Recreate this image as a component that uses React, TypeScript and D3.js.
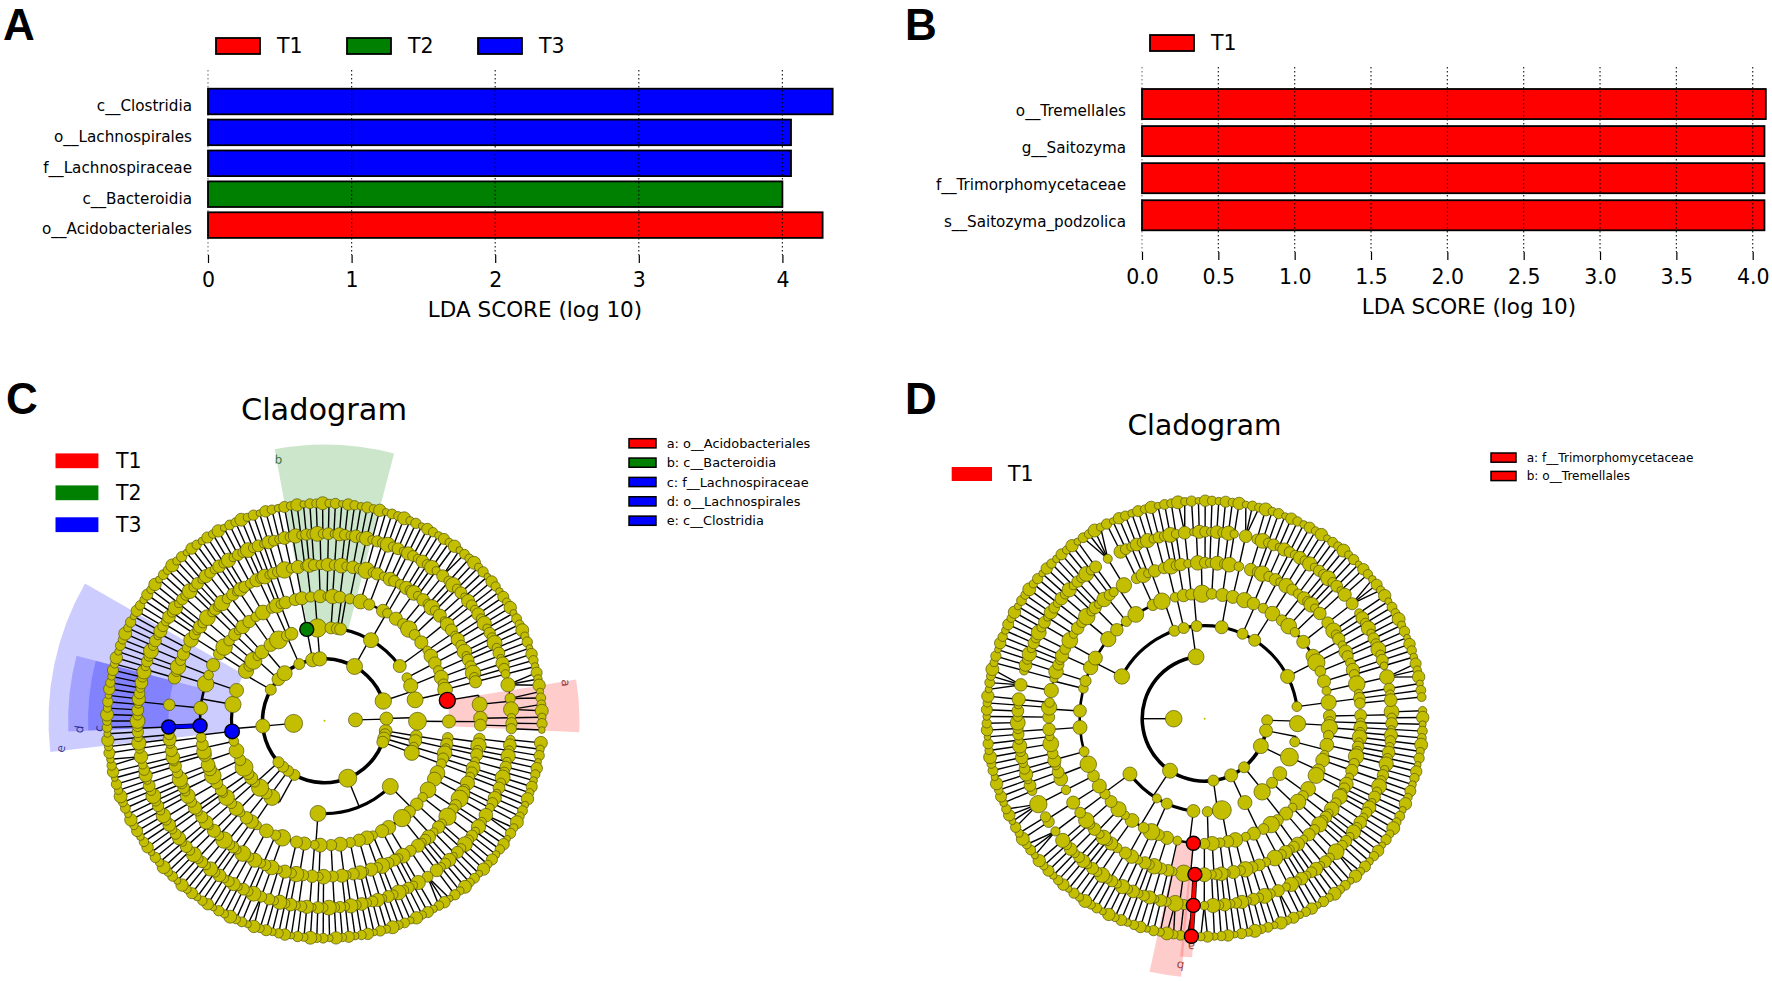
import React, { useEffect, useRef } from 'react';
import * as d3 from 'd3';

// ---- LDA bar panels ----
const categoriesA = ['c__Clostridia', 'o__Lachnospirales', 'f__Lachnospiraceae', 'c__Bacteroidia', 'o__Acidobacteriales'];
const scoresA = [4.35, 4.06, 4.06, 4.0, 4.28];
const groupsA = ['T3', 'T3', 'T3', 'T2', 'T1'];
const ticksA = [0, 1, 2, 3, 4];

const categoriesB = ['o__Tremellales', 'g__Saitozyma', 'f__Trimorphomycetaceae', 's__Saitozyma_podzolica'];
const scoresB = [4.086, 4.077, 4.077, 4.077];
const groupsB = ['T1', 'T1', 'T1', 'T1'];
const ticksB = [0, 0.5, 1, 1.5, 2, 2.5, 3, 3.5, 4];

const groupColor: Record<string, string> = { T1: '#ff0000', T2: '#008000', T3: '#0000ff' };

// ---- cladogram legends ----
const cladeKeyC = [
  ['a: o__Acidobacteriales', 'T1'],
  ['b: c__Bacteroidia', 'T2'],
  ['c: f__Lachnospiraceae', 'T3'],
  ['d: o__Lachnospirales', 'T3'],
  ['e: c__Clostridia', 'T3'],
];
const cladeKeyD = [
  ['a: f__Trimorphomycetaceae', 'T1'],
  ['b: o__Tremellales', 'T1'],
];

// shaded sectors: label, group, first angle, last angle, inner ring, outer radius (degrees clockwise from north)
const sectorsC: [string, string, number, number, number, number][] = [
  ['e', 'T3', 263.5, 299.8, 3, 276],
  ['d', 'T3', 267.6, 284.7, 4, 256.4],
  ['c', 'T3', 267.6, 284.7, 5, 236.5],
  ['b', 'T2', 349.6, 374.6, 3, 276],
  ['a', 'T1', 80.7, 92.6, 4, 255],
];
const sectorsD: [string, string, number, number, number, number][] = [
  ['b', 'T1', 185.2, 192.3, 4, 259],
  ['a', 'T1', 183, 185.9, 5, 239],
];

// ---- taxonomy trees ----
// kingdom > phylum > class > order > family. A number is a family with that many
// single-species genera, an array is a family listing the species count of each genus.
const phylaC1 = [
  [[[2, 1], [1]]],
  [[[1]]],
  [[[2], [1]]],
  [[[1, 1]]],
];
const phylumC2 = [
  [[2, 1], [1, [2]], [1, 1], [3], [1, 1], [2, 1], [1, 1, 1], [[3], 1], [1, 1], [2, 1], [1]],
  [[2, 1], [1, 2], [1, 1], [3], [1, 1], [2], [2, 1], [1, 2, 1], [[2]], [1, 1], [2, 1]],
];
const phylaC3 = [
  [[[2, 1], [1]], [[1, 2]], [[1], [2]]],
  [[[1, 1]], [[2]], [[1], [1]]],
  [[[2, 1]], [[1, 1], [1]]],
  [[[1, 2], [1]], [[1, 1], [[2]]], [[1, 1]]],
];
const phylumC4 = [
  [[1, 1], [10], [2, 1], [1, 2]],
  [[1, 2]],
];
const phylaC5 = [
  [[[2, 1]], [[1, 1]]],
  [[[1, 2]], [[1]]],
  [[[1, 1], [1]]],
];
const phylumC6 = [[[2, 1], [1, 1]], [[1, 2]], [[1, 1], [1]], [[1]]];
const phylumC7 = [[[1, 1], [2, 1]]];
const phylumC8 = [[[2], [1, 1], [1, 2], [1]]];
const phylumC9 = [
  [[2]],
  [[1, 1]],
  [[2, 1]],
  [[2, 1], [1, 2], [1, 1], [2, 1], [1, 1, 1], [[2]], [1, 1]],
  [[1, 2], [1, 1], [2, 1], [1]],
];
const phylumC10 = [
  [[2, 1]],
  [[1, 1], [2]],
  [[1, 1], [1], [[3, 2, 2]]],
];
const kingdomC2 = [[[[1, 2]]]];
const treeC = [
  [...phylaC1, phylumC2, ...phylaC3, phylumC4, ...phylaC5, phylumC6, phylumC7, phylumC8, phylumC9, phylumC10],
  kingdomC2,
];

const phylumD1 = [[[2], [1], [1, 1], [1, 1]]];
const phylumD2 = [[[1, 1, 1], [2]]];
const phylumD3 = [[[1], [2, 1, 1], [1, 1]]];
const phylumD4 = [[[2, 1], [1, 1]], [[1, 1], [[2]]], [[1, 2], [1, 1]]];
const phylumD5 = [[[1, 1], [1, 2], [[2]], [1, 2]]];
const phylumD6 = [[[1, 1], [2], [1, 1]], [[1, 1], [[2]]]];
const phylumD7 = [
  [[[2], [1, 2]], [1, 1], [2, 1]],
  [[1, 1], [2], [1, 2]],
  [[2, 1], [1, 1]],
  [[1, 2], [1, 1], [[3]], [2]],
];
const phylumD8 = [
  [[[4]], [1, 2], [1, 1, 2], [2, 1, 2], [3, 1, 1], [[4]], [1, 2, 1], [1, 1, 2], [2, 1, 2], [1, 2], [1, 1, 1], [2, 1], [1, [4]], [2, 1]],
  [[1, 2]],
  [[2, 1]],
  [[1, 1], [[2]], [2, 1]],
  [[1, 2], [1, 1], [[3]]],
  [[2, 1], [1, 2]],
  [[1, 1], [2, 1]],
  [[2, 1], [1, 1], [1, 2], [[3]], [1, 1, 1], [2, 1], [1, 2], [1, 1], [[3]]],
  [[1, 1, 1]],
];
const treeD = [[phylumD1, phylumD2, phylumD3, phylumD4, phylumD5, phylumD6, phylumD7, phylumD8]];

// nodes: ring, angle, radius, group colour, heavy branch to parent
type Pin = [number, number, number, string?, boolean?];
const pinsC: Pin[] = [
  [1, 265, 9], [1, 88.5, 7],
  [2, 158, 9], [2, 209, 5.5], [2, 216, 5.5], [2, 222, 5.5], [2, 228, 5.5],
  [2, 265, 7], [2, 300, 5.5], [2, 320, 7.5], [2, 336, 5.5], [2, 349, 7], [2, 29, 8], [2, 71.5, 8.2], [2, 88, 6.5],
  [3, 349, 7, 'T2'], [3, 263.4, 7.3, 'T3'], [3, 289, 7], [3, 30, 7.5], [3, 54, 6.5], [3, 77, 8], [3, 135, 8], [3, 184, 8],
  [3, 4, 6], [3, 8, 6], [3, 10, 6],
  [4, 80.6, 8, 'T1'], [4, 267.7, 7, 'T3'], [4, 28, 6.5], [4, 358, 6.5], [4, 349.5, 6.5], [4, 149, 7], [4, 137, 6],
  [4, 118, 7], [4, 182, 7], [4, 193, 6], [4, 254, 6.5], [4, 247, 6.5],
  [5, 267.7, 7, 'T3', true], [5, 120, 8.5], [5, 84, 7.5],
];
const pinsD: Pin[] = [
  [1, 270, 8.3],
  [2, 91.5, 5.5], [2, 101, 6.5], [2, 116, 7.5], [2, 141, 5.5], [2, 155, 6.5], [2, 172, 5.5], [2, 213.7, 7.5], [2, 352, 8],
  [3, 297, 7.7], [3, 63, 7], [3, 233.5, 7], [3, 187, 6.5], [3, 204, 5.5], [3, 211, 4.5], [3, 341, 5.5], [3, 347, 5.5], [3, 355, 5.5],
  [3, 10.5, 6.5], [3, 24, 5.5], [3, 32.5, 6],
  [4, 185.2, 7, 'T1'], [4, 266, 7], [4, 284, 4.8], [4, 299, 7], [4, 13, 6.5], [4, 60, 7], [4, 117, 8],
  [5, 183.6, 7, 'T1'], [5, 120, 7.5],
  [6, 183.5, 7, 'T1', true],
  [7, 183.5, 7, 'T1', true],
];

const ringRadiiC = [0, 31, 62, 93, 124.5, 156, 187, 217.5];
const ringRadiiD = [0, 31, 62.5, 93, 125, 156, 187, 218];
const ringNodeSize = [0, 9, 5.5, 5.8, 5.6, 5.6, 5.4, 4.7];
const branchWidth = [0, 0, 3.6, 3.2, 2.6, 1.6, 1.2, 1];
// node-to-node size differences within a ring, estimated from the outer rings
const sizeSteps = [1, 0.82, 1.18, 0.9, 1.32, 0.76, 1.05, 0.95, 1.38, 0.86, 1.1, 0.72, 1.22];

const nodeFill = '#c3bf00';
const FONT = '"DejaVu Sans", sans-serif';

const panelLetters: [string, number, number][] = [['A', 3, 39.5], ['B', 905, 39.5], ['C', 6, 414], ['D', 905, 414]];

function expand(v: any, depth: number): any {
  if (depth === 7) return {};
  if (typeof v === 'number') {
    if (depth === 6) return { kids: d3.range(v).map(() => expand(0, 7)) };
    return { kids: d3.range(v).map(() => expand(1, 6)) };
  }
  return { kids: v.map((k: any) => expand(k, depth + 1)) };
}

const polar = (deg: number, r: number) => d3.pointRadial((deg * Math.PI) / 180, r);

function drawBars(svg: any, cfg: any) {
  const g = svg.append('g').attr('font-family', FONT);
  const x = d3.scaleLinear().domain([0, cfg.ticks[cfg.ticks.length - 1]]).range(cfg.xRange);
  const y = d3.scaleBand().domain(cfg.categories).range(cfg.yRange).paddingInner(cfg.padding).paddingOuter(0);

  g.selectAll('rect.bar')
    .data(cfg.categories)
    .join('rect')
    .attr('class', 'bar')
    .attr('x', x(0))
    .attr('y', (d: string) => y(d))
    .attr('width', (_: string, i: number) => x(cfg.values[i]) - x(0))
    .attr('height', y.bandwidth())
    .attr('fill', (_: string, i: number) => groupColor[cfg.groups[i]])
    .attr('stroke', '#000')
    .attr('stroke-width', 1.8);

  // dotted grid goes over the bars
  g.selectAll('line.grid')
    .data(cfg.ticks)
    .join('line')
    .attr('x1', (d: number) => x(d))
    .attr('x2', (d: number) => x(d))
    .attr('y1', cfg.gridTop)
    .attr('y2', cfg.axisY)
    .attr('stroke', '#000')
    .attr('stroke-opacity', (d: number) => (d === 0 ? 0.5 : 0.85))
    .attr('stroke-width', 1.2)
    .attr('stroke-dasharray', '1.5 2.5');

  const axis = g.append('g')
    .attr('transform', `translate(0,${cfg.axisY})`)
    .call(d3.axisBottom(x).tickValues(cfg.ticks).tickSize(8).tickPadding(9).tickFormat(cfg.format));
  axis.select('.domain').remove();
  axis.selectAll('text').attr('font-size', 20.5).attr('font-family', FONT).attr('fill', '#000');
  axis.selectAll('line').attr('stroke-width', 1.2);

  g.selectAll('text.cat')
    .data(cfg.categories)
    .join('text')
    .attr('class', 'cat')
    .attr('x', cfg.labelX)
    .attr('y', (d: string) => y(d)! + y.bandwidth() / 2 + cfg.labelDrop)
    .attr('dy', '0.32em')
    .attr('text-anchor', 'end')
    .attr('font-size', 15.2)
    .text((d: string) => d);

  g.append('text')
    .attr('x', cfg.titleX)
    .attr('y', cfg.titleY)
    .attr('dy', '0.32em')
    .attr('text-anchor', 'middle')
    .attr('font-size', 21.5)
    .text('LDA SCORE (log 10)');

  cfg.legend.forEach((name: string, i: number) => {
    g.append('rect')
      .attr('x', cfg.legendX[i])
      .attr('y', cfg.legendY)
      .attr('width', 44)
      .attr('height', 16)
      .attr('fill', groupColor[name])
      .attr('stroke', '#000')
      .attr('stroke-width', 1.8);
    g.append('text')
      .attr('x', cfg.legendX[i] + 61)
      .attr('y', cfg.legendY + 8)
      .attr('dy', '0.36em')
      .attr('font-size', 20.5)
      .text(name);
  });
}

function drawCladogram(svg: any, cfg: any) {
  const root = d3.hierarchy(expand(cfg.tree, 0), (d: any) => d.kids);
  const leafCount = root.leaves().length;
  d3.cluster().size([(360 * (leafCount - 1)) / leafCount, 1]).separation(() => 1)(root as any);
  const nodes: any[] = root.descendants();
  nodes.forEach(n => {
    n.a = n.x + cfg.start;
  });
  const r = d3.scaleLinear().domain(d3.range(8)).range(cfg.radii);

  // default sizes: bigger clades get bigger nodes
  const sz = d3.scaleSqrt().domain([1, 12]).range([1, 1.4]).clamp(true);
  nodes.forEach((n, i) => {
    const step = n.depth >= 3 ? sizeSteps[i % sizeSteps.length] : 1;
    n.size = ringNodeSize[n.depth] * sz(n.leaves().length) * step;
  });

  const used = new Set<any>();
  cfg.pins.forEach(([depth, angle, size, group, heavy]: Pin) => {
    let best: any = null;
    let bestDiff = Infinity;
    nodes.filter(n => n.depth === depth && !used.has(n)).forEach(n => {
      const diff = ((angle - n.a + 540) % 360) - 180;
      if (Math.abs(diff) < Math.abs(bestDiff)) {
        bestDiff = diff;
        best = n;
      }
    });
    if (!best) return;
    used.add(best);
    best.a += bestDiff;
    best.size = size;
    best.group = group;
    best.heavy = heavy;
  });

  const g = svg.append('g').attr('transform', `translate(${cfg.cx},${cfg.cy})`).attr('font-family', FONT);

  // sectors
  const sectorArc = d3.arc();
  cfg.sectors.forEach(([label, group, a0, a1, ring, outer]: any) => {
    g.append('path')
      .attr('d', sectorArc({
        innerRadius: r(ring),
        outerRadius: outer,
        startAngle: (a0 * Math.PI) / 180,
        endAngle: (a1 * Math.PI) / 180,
      } as any))
      .attr('fill', groupColor[group])
      .attr('fill-opacity', 0.2);
    const [lx, ly] = polar(a0 + 0.4, outer - 11);
    g.append('text')
      .attr('transform', `translate(${lx},${ly}) rotate(${(a0 + a1) / 2})`)
      .attr('text-anchor', 'middle')
      .attr('dy', '0.32em')
      .attr('font-size', 12)
      .attr('fill', d3.color(groupColor[group])!.darker(2.2).formatHex())
      .attr('fill-opacity', 0.75)
      .text(label);
  });

  // branches: spoke out of the parent, arc along the children's ring
  const branchArc = d3.arc();
  const links = g.append('g');
  nodes.filter(n => n.children && n.depth >= 1).forEach(n => {
    const childR = r(n.depth + 1);
    if (n.depth === 6) {
      n.children.forEach((c: any) => {
        const [x1, y1] = polar(n.a, r(n.depth));
        const [x2, y2] = polar(c.a, childR);
        links.append('line').attr('x1', x1).attr('y1', y1).attr('x2', x2).attr('y2', y2).attr('stroke', '#000').attr('stroke-width', 1.4);
      });
      return;
    }
    const [x1, y1] = polar(n.a, r(n.depth));
    const [x2, y2] = polar(n.a, childR);
    links.append('line').attr('x1', x1).attr('y1', y1).attr('x2', x2).attr('y2', y2).attr('stroke', '#000').attr('stroke-width', 1.4);
    const angles = [n.a, ...n.children.map((c: any) => c.a)];
    const [lo, hi] = d3.extent(angles) as [number, number];
    const w = branchWidth[n.depth + 1];
    if (hi > lo) {
      links.append('path')
        .attr('d', branchArc({
          innerRadius: childR - w / 2,
          outerRadius: childR + w / 2,
          startAngle: (lo * Math.PI) / 180,
          endAngle: (hi * Math.PI) / 180,
        } as any))
        .attr('fill', '#000');
    }
  });

  // heavy coloured branches into marked nodes
  nodes.filter(n => n.heavy).forEach(n => {
    const [x1, y1] = polar(n.parent.a, r(n.depth - 1));
    const [x2, y2] = polar(n.a, r(n.depth));
    links.append('line').attr('x1', x1).attr('y1', y1).attr('x2', x2).attr('y2', y2)
      .attr('stroke', '#000').attr('stroke-width', 5);
    links.append('line').attr('x1', x1).attr('y1', y1).attr('x2', x2).attr('y2', y2)
      .attr('stroke', groupColor[n.group]).attr('stroke-width', 3.6);
  });

  // nodes, plain ones first so the marked ones sit on top
  const ordered = nodes.filter(n => n.depth > 0).sort((a, b) => (a.group ? 1 : 0) - (b.group ? 1 : 0));
  g.append('g')
    .selectAll('circle')
    .data(ordered)
    .join('circle')
    .attr('cx', (n: any) => polar(n.a, r(n.depth))[0])
    .attr('cy', (n: any) => polar(n.a, r(n.depth))[1])
    .attr('r', (n: any) => n.size)
    .attr('fill', (n: any) => (n.group ? groupColor[n.group] : nodeFill))
    .attr('stroke', (n: any) => (n.group ? '#000' : '#55550a'))
    .attr('stroke-width', (n: any) => (n.group ? 1.4 : 0.7));

  // root
  g.append('circle').attr('r', 1).attr('fill', nodeFill);

  // titles and legends live in page coordinates
  const t = svg.append('g').attr('font-family', FONT);
  t.append('text')
    .attr('x', cfg.titleX)
    .attr('y', cfg.titleY)
    .attr('text-anchor', 'middle')
    .attr('font-size', cfg.titleSize)
    .text('Cladogram');
  cfg.groupKeys.forEach(([name, y]: [string, number]) => {
    t.append('rect').attr('x', cfg.groupKeyX[0]).attr('y', y - cfg.groupKeyH / 2).attr('width', cfg.groupKeyX[1] - cfg.groupKeyX[0]).attr('height', cfg.groupKeyH).attr('fill', groupColor[name]);
    t.append('text').attr('x', cfg.groupKeyX[2]).attr('y', y).attr('dy', '0.36em').attr('font-size', 20.5).text(name);
  });
  cfg.key.forEach(([label, group]: string[], i: number) => {
    const y = cfg.keyY[0] + i * cfg.keyY[1];
    t.append('rect').attr('x', cfg.keyX[0]).attr('y', y - 4.6).attr('width', cfg.keyX[1] - cfg.keyX[0]).attr('height', 9.2)
      .attr('fill', groupColor[group]).attr('stroke', '#000').attr('stroke-width', 1.5);
    t.append('text').attr('x', cfg.keyX[2]).attr('y', y).attr('dy', '0.36em').attr('font-size', cfg.keySize).text(label);
  });
}

export default function App() {
  const svgRef = useRef<SVGSVGElement>(null);

  useEffect(() => {
    if (!svgRef.current) return;
    const svg = d3.select(svgRef.current);
    svg.selectAll('*').remove();

    drawBars(svg, {
      categories: categoriesA, values: scoresA, groups: groupsA, ticks: ticksA,
      xRange: [208, 782.4], yRange: [88.7, 237.9], padding: 0.1715,
      gridTop: 70, axisY: 255, labelX: 192, labelDrop: 4.5, titleX: 535, titleY: 310,
      format: d3.format('d'), legend: ['T1', 'T2', 'T3'], legendX: [216, 347, 478], legendY: 38,
    });
    drawBars(svg, {
      categories: categoriesB, values: scoresB, groups: groupsB, ticks: ticksB,
      xRange: [1142, 1752.7], yRange: [89, 230.3], padding: 0.189,
      gridTop: 67, axisY: 252, labelX: 1126, labelDrop: 6.8, titleX: 1469, titleY: 307,
      format: d3.format('.1f'), legend: ['T1'], legendX: [1150], legendY: 35,
    });

    drawCladogram(svg, {
      tree: treeC, start: 95, cx: 324.5, cy: 720.7, radii: ringRadiiC, pins: pinsC, sectors: sectorsC,
      titleX: 324, titleY: 419.5, titleSize: 30.4,
      groupKeys: [['T1', 460.8], ['T2', 492.8], ['T3', 524.7]], groupKeyX: [55.5, 98.4, 116], groupKeyH: 14.8,
      key: cladeKeyC, keyX: [629, 656, 666.7], keyY: [443.3, 19.35], keySize: 12.9,
    });
    drawCladogram(svg, {
      tree: treeD, start: 87, cx: 1204.7, cy: 718.7, radii: ringRadiiD, pins: pinsD, sectors: sectorsD,
      titleX: 1204.5, titleY: 435, titleSize: 28.2,
      groupKeys: [['T1', 474]], groupKeyX: [951.7, 992, 1008], groupKeyH: 14,
      key: cladeKeyD, keyX: [1491, 1516, 1526.7], keyY: [457.6, 18.4], keySize: 12.1,
    });

    svg.append('g')
      .selectAll('text')
      .data(panelLetters)
      .join('text')
      .attr('x', d => d[1])
      .attr('y', d => d[2])
      .attr('font-family', '"Liberation Sans", sans-serif')
      .attr('font-weight', 'bold')
      .attr('font-size', 44)
      .text(d => d[0]);
  }, []);

  return <svg ref={svgRef} width={1772} height={981} style={{ position: 'absolute', left: 0, top: 0, display: 'block', background: '#fff' }} />;
}
